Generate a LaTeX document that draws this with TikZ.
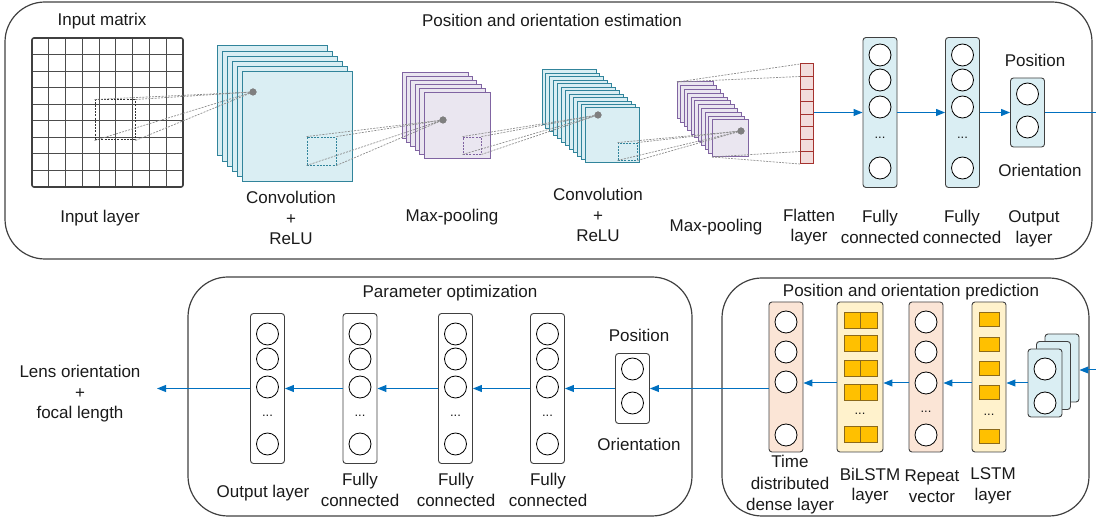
\documentclass[tikz,border=0pt]{standalone}
\usepackage{fontspec}
\setmainfont{Liberation Sans}
\usetikzlibrary{arrows.meta}
\definecolor{arrowblue}{HTML}{0070C0}
\definecolor{tealb}{HTML}{31849B}
\definecolor{tealf}{HTML}{DAEEF3}
\definecolor{purpb}{HTML}{8064A2}
\definecolor{purpf}{HTML}{EAE6F0}
\definecolor{redb}{HTML}{A5322E}
\definecolor{redf}{HTML}{F2DCDB}
\definecolor{peach}{HTML}{FBE5D6}
\definecolor{lyellow}{HTML}{FFF2CC}
\definecolor{gold}{HTML}{FFC000}
\definecolor{goldb}{HTML}{8C6A1A}
\definecolor{panel}{HTML}{404040}
\definecolor{dashgray}{HTML}{8C8C8C}
\definecolor{dotgray}{HTML}{7F7F7F}
\definecolor{txt}{HTML}{1A1A1A}
\begin{document}
\begin{tikzpicture}[x=1pt,y=-1pt, font=\fontsize{17}{20.5}\selectfont, text=txt,
  panelbox/.style={draw=panel, line width=1.2pt, rounded corners=40pt},
  layerbox/.style={draw=panel, line width=0.9pt, rounded corners=3pt, minimum width=34pt, inner sep=0pt},
  neuron/.style={circle, draw=black, fill=white, line width=0.8pt, minimum size=22pt, inner sep=0pt},
  flow/.style={draw=arrowblue, line width=1pt, -{Triangle[length=9pt,width=7pt]}},
  flowline/.style={draw=arrowblue, line width=1pt},
  proj/.style={draw=dashgray, line width=0.7pt, dash pattern=on 2pt off 1.2pt},
  tealsheet/.style={draw=tealb, fill=tealf, line width=1pt},
  purpsheet/.style={draw=purpb, fill=purpf, line width=1pt},
  goldcell/.style={draw=goldb, fill=gold, line width=0.7pt},
  dotn/.style={circle, fill=dotgray, minimum size=7pt, inner sep=0pt},
  ell/.style={font=\fontsize{13}{13}\selectfont, inner sep=0pt},
  lbl/.style={align=center, inner sep=0pt},
  lbl3/.style={align=center, inner sep=0pt, font=\fontsize{17}{21.5}\selectfont},
]
\useasboundingbox (0,0) rectangle (1096,518);

% ---------------- panels ----------------
\draw[panelbox] (5,2) rectangle (1092,259);
\draw[panelbox] (188,277) rectangle (692,516);
\draw[panelbox] (722,278) rectangle (1089,516);

% ---------------- input grid ----------------
\foreach \i in {1,...,8} {
  \draw[draw=black!70, line width=0.9pt] ({32+\i*151/9},38) -- ({32+\i*151/9},187);
  \draw[draw=black!70, line width=0.9pt] (32,{38+\i*149/9}) -- (183,{38+\i*149/9});
}
\draw[draw=panel, line width=1.6pt, rounded corners=2pt] (32,38) rectangle (183,187);
\node[draw=black!80, line width=1pt, dash pattern=on 2pt off 1.2pt, minimum width=40pt, minimum height=40pt, inner sep=0pt] (s0) at (115,120) {};

% ---------------- conv1 ----------------
\foreach \i in {0,...,5} \draw[tealsheet] ({217+5*\i},{46+5.2*\i}) rectangle ++(110,110);
\node[dotn] (d1) at (253,92) {};
\node[draw=tealb, line width=0.9pt, dash pattern=on 2pt off 1.2pt, minimum width=29pt, minimum height=28pt, inner sep=0pt] (s1) at (321.5,151) {};

% ---------------- pool1 ----------------
\foreach \i in {0,...,5} \draw[purpsheet] ({402+4.4*\i},{73+4*\i}) rectangle ++(66,66);
\node[dotn] (d2) at (443,120) {};
\node[draw=purpb, line width=0.9pt, dash pattern=on 2pt off 1.2pt, minimum width=18pt, minimum height=17pt, inner sep=0pt] (s2) at (472,145.5) {};

% ---------------- conv2 ----------------
\foreach \i in {0,...,11} \draw[tealsheet] ({542+3.91*\i},{70+3.45*\i}) rectangle ++(54,55);
\node[dotn] (d3) at (598,115) {};
\node[draw=tealb, line width=0.9pt, dash pattern=on 2pt off 1.2pt, minimum width=19pt, minimum height=17pt, inner sep=0pt] (s3) at (627.5,151.5) {};

% ---------------- pool2 ----------------
\foreach \i in {0,...,10} \draw[purpsheet] ({677+3.5*\i},{82+3.8*\i}) rectangle ++(36,37);
\node[dotn] (d4) at (741,131) {};
\coordinate (p2back) at (677,82);
\coordinate (p2front) at (712,157);

% ---------------- flatten ----------------
\node[draw=redb, fill=redf, line width=1pt, minimum width=13pt, minimum height=100pt, inner sep=0pt] (flat) at (806.5,114) {};
\foreach \i in {1,...,7} \draw[draw=redb, line width=0.9pt] (800,{64+12.5*\i}) -- (813,{64+12.5*\i});
\coordinate (f1) at (800,64);
\coordinate (f2) at (800,76.5);
\coordinate (f7) at (800,151.5);
\coordinate (f8) at (800,164);

% ---------------- projection lines ----------------
\foreach \c in {north west,north east,south west,south east} {
  \draw[proj] (s0.\c) -- (d1.center);
  \draw[proj] (s1.\c) -- (d2.center);
  \draw[proj] (s2.\c) -- (d3.center);
  \draw[proj] (s3.\c) -- (d4.center);
}
\node[dotn] at (d1) {};
\node[dotn] at (d2) {};
\node[dotn] at (d3) {};
\node[dotn] at (d4) {};
\draw[proj] (p2back) -- (f1);
\draw[proj] (p2back) -- (f2);
\draw[proj] (p2front) -- (f7);
\draw[proj] (p2front) -- (f8);

% ---------------- fully connected (top) ----------------
\node[layerbox, fill=tealf, minimum height=150pt] (fc1) at (880,112.5) {};
\node[layerbox, fill=tealf, minimum height=150pt] (fc2) at (962.5,112.5) {};
\node[layerbox, fill=tealf, minimum height=69pt] (out1) at (1027.5,112.5) {};
\foreach \x in {880,962.5} {
  \foreach \y in {55,80,107,168} \node[neuron] at (\x,\y) {};
  \node[ell] at (\x,138) {...};
}
\node[neuron] at (1027.5,94) {};
\node[neuron] at (1027.5,127) {};
\coordinate (topR) at (1096,112.5);
\draw[flow] (flat.east |- fc1.west) -- (fc1.west);
\draw[flow] (fc1.east) -- (fc2.west);
\draw[flow] (fc2.east) -- (out1.west);
\draw[flowline] (out1.east) -- (topR);

% ---------------- top labels ----------------
\node (tInput) at (102,21) {Input matrix};
\node (tInLayer) at (100,218) {Input layer};
\node (tTitle1) at (552,20) {Position and orientation estimation};
\node[lbl] (tConv1) at (291,218) {Convolution\\+\\ReLU};
\node (tPool1) at (452,217) {Max-pooling};
\node[lbl] (tConv2) at (598,215) {Convolution\\+\\ReLU};
\node (tPool2) at (716,227) {Max-pooling};
\node[lbl] (tFlat) at (809,227) {Flatten\\layer};
\node[lbl] (tFc1) at (880,227) {Fully\\connected};
\node[lbl] (tFc2) at (962,227) {Fully\\connected};
\node[lbl] (tOut1) at (1034,229) {Output\\layer};
\node (tPos1) at (1035,60) {Position};
\node (tOri1) at (1040,170) {Orientation};

% ---------------- parameter optimization ----------------
\node[layerbox, fill=white, minimum height=150pt] (outL) at (267.5,388.5) {};
\node[layerbox, fill=white, minimum height=150pt] (fca) at (360,388.5) {};
\node[layerbox, fill=white, minimum height=150pt] (fcb) at (455.5,388.5) {};
\node[layerbox, fill=white, minimum height=150pt] (fcc) at (547.5,388.5) {};
\node[layerbox, fill=white, minimum height=70pt] (pos) at (632.5,388.5) {};
\foreach \x in {267.5,360,455.5,547.5} {
  \foreach \y in {334,359,387,444} \node[neuron] at (\x,\y) {};
  \node[ell] at (\x,416) {...};
}
\node[neuron] at (632.5,369) {};
\node[neuron] at (632.5,403) {};
\coordinate (lensin) at (157,388.5);
\draw[flow] (pos.west) -- (fcc.east);
\draw[flow] (fcc.west) -- (fcb.east);
\draw[flow] (fcb.west) -- (fca.east);
\draw[flow] (fca.west) -- (outL.east);
\draw[flow] (outL.west) -- (lensin);

\node (tPO) at (450,293) {Parameter optimization};
\node (tOutL) at (263,493) {Output layer};
\node[lbl] (tFca) at (360,490) {Fully\\connected};
\node[lbl] (tFcb) at (456,490) {Fully\\connected};
\node[lbl] (tFcc) at (548,490) {Fully\\connected};
\node (tPos2) at (639,335) {Position};
\node (tOri2) at (639,444) {Orientation};
\node[lbl] (tLens) at (80,394) {Lens orientation\\+\\focal length};

% ---------------- position and orientation prediction ----------------
\node[layerbox, fill=peach, minimum height=150pt] (td) at (786,377) {};
\node[layerbox, fill=lyellow, minimum width=46pt, minimum height=150pt] (bil) at (860,377) {};
\node[layerbox, fill=peach, minimum height=150pt] (rep) at (926,377) {};
\node[layerbox, fill=lyellow, minimum height=150pt] (lstm) at (989,377) {};
\foreach \y in {322,352,382,435} \node[neuron] at (786,\y) {};
\foreach \y in {322,352,383,435} \node[neuron] at (926,\y) {};
\node[ell] at (926,412) {...};
\foreach \y in {320,343.5,368,392,434} {
  \draw[goldcell] (844,{\y-8}) rectangle ++(16.5,16);
  \draw[goldcell] (860.5,{\y-8}) rectangle ++(16.5,16);
}
\node[ell] at (860,414) {...};
\foreach \y in {319,344,368,392,436} \draw[goldcell] (979,{\y-7}) rectangle ++(20,14);
\node[ell] at (989,415) {...};

\node[layerbox, fill=tealf, minimum height=68pt] (back) at (1062,368) {};
\node[layerbox, fill=tealf, minimum height=68pt] (mid) at (1053.5,375.5) {};
\node[layerbox, fill=tealf, minimum height=68pt] (front) at (1045,383) {};
\node[neuron] at (1045,369) {};
\node[neuron] at (1045,403) {};

\coordinate (inR) at (1096,370);
\draw[flow] (inR) -- (back.east |- inR);
\draw[flow] (front.west) -- (lstm.east |- front.west);
\draw[flow] (lstm.west |- front.west) -- (rep.east |- front.west);
\draw[flow] (rep.west |- front.west) -- (bil.east |- front.west);
\draw[flow] (bil.west |- front.west) -- (td.east |- front.west);
\draw[flow] (td.west |- pos.east) -- (pos.east);

\node (tPOP) at (911,292) {Position and orientation prediction};
\node[lbl3] (tTD) at (790,485) {Time\\distributed\\dense layer};
\node[lbl] (tBil) at (870,486) {BiLSTM\\layer};
\node[lbl] (tRep) at (932,486) {Repeat\\vector};
\node[lbl] (tLstm) at (993,486) {LSTM\\layer};
\end{tikzpicture}
\end{document}
